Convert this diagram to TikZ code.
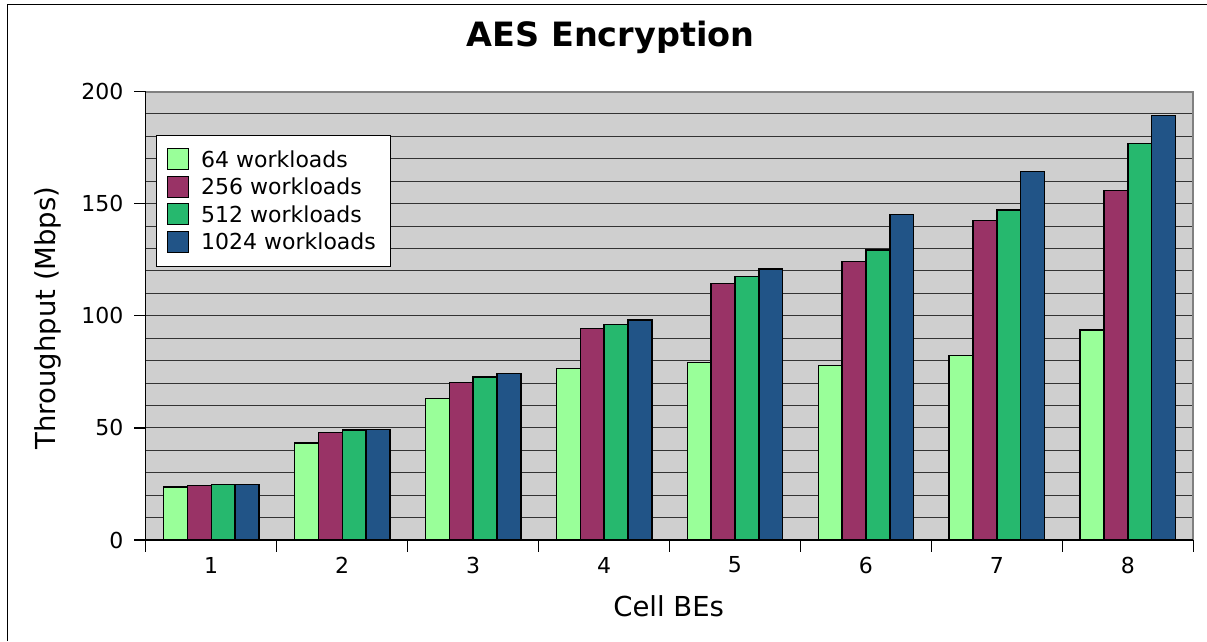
\documentclass[tikz,border=0pt]{standalone}
\usepackage{fontspec}
\setmainfont{DejaVu Sans}
\definecolor{wlA}{HTML}{99FF99}
\definecolor{wlB}{HTML}{993366}
\definecolor{wlC}{HTML}{26B86E}
\definecolor{wlD}{HTML}{215487}
\definecolor{plotbg}{HTML}{CFCFCF}
\definecolor{plotedge}{HTML}{808080}

% one bar: group, slot (0..3), value, fill colour
\newcommand\wlbar[4]{%
  \pgfmathsetmacro\barleft{145.7+(#1-1)*130.95+17.7+#2*23.9}%
  \pgfmathsetmacro\bartop{540-#3*2.2425}%
  \draw[barbox,fill=#4] (\barleft,540) rectangle ({\barleft+23.9},\bartop);%
}

\begin{document}
\begin{tikzpicture}[x=1pt,y=-1pt,
  barbox/.style={draw=black,line width=1.3pt},
  gridline/.style={draw=black!80,line width=1pt},
  axisline/.style={draw=black,line width=1.3pt},
  ticklabel/.style={inner sep=0pt,font=\fontsize{22}{26}\selectfont},
  axistitle/.style={inner sep=0pt,font=\fontsize{27.5}{32}\selectfont},
  legendtext/.style={inner sep=0pt,anchor=west,font=\fontsize{22}{26}\selectfont},
  swatch/.style={draw=black,line width=1pt,minimum width=21,minimum height=21,inner sep=0pt}]
\useasboundingbox (0,0) rectangle (1207,641);

% outer frame (top and left edges)
\draw[line width=1.5pt] (7.5,641) -- (7.5,4.5) -- (1207,4.5);

% title
\node[inner sep=0pt,anchor=base,font=\bfseries\fontsize{33.5}{38}\selectfont] (title) at (610.5,46) {AES Encryption};

% plot area
\fill[plotbg] (145.7,91.5) rectangle (1193.3,540);
\foreach \v in {10,20,...,190}
  \draw[gridline] (145.7,{540-\v*2.2425}) -- (1193.3,{540-\v*2.2425});
\draw[plotedge,line width=2pt] (145.7,91.5) -- (1193.3,91.5) -- (1193.3,540);

% bars
\foreach \g/\a/\b/\c/\d in {1/23.6/24.4/24.6/24.8, 2/43.3/47.9/49.1/49.3,
    3/63.1/70.3/72.7/74.2, 4/76.4/94.4/96.0/98.1, 5/79.1/114.4/117.4/120.8,
    6/77.9/124.2/129.3/145.0, 7/82.4/142.5/147.2/164.4, 8/93.6/156.0/176.9/189.2}{
  \wlbar{\g}{0}{\a}{wlA}
  \wlbar{\g}{1}{\b}{wlB}
  \wlbar{\g}{2}{\c}{wlC}
  \wlbar{\g}{3}{\d}{wlD}
}

% axes and ticks
\draw[axisline] (145.7,91.5) -- (145.7,551.5);
\draw[axisline] (145.7,540) -- (1193.3,540);
\foreach \v in {0,50,...,200}
  \draw[axisline] (134,{540-\v*2.2425}) -- (145.7,{540-\v*2.2425});
\foreach \k in {1,...,8}
  \draw[axisline] ({145.7+\k*130.95},540) -- ({145.7+\k*130.95},551.5);

% tick labels
\foreach \v in {0,50,100,150,200}
  \node[ticklabel,anchor=east] (ylab\v) at (123.5,{540-\v*2.2425}) {\v};
\foreach \k in {1,...,8}
  \node[ticklabel] (xlab\k) at ({145.7+(\k-0.5)*130.95},565) {\k};

% axis titles
\node[axistitle,anchor=base] (xtitle) at (668.7,616) {Cell BEs};
\node[axistitle,anchor=base,rotate=90] (ytitle) at (55,318) {Throughput (Mbps)};

% legend
\node[draw=black,fill=white,line width=1pt,anchor=north west,
      minimum width=234,minimum height=130.7,inner sep=0pt] (legend) at (156,135) {};
\foreach \i/\col/\txt in {0/wlA/64 workloads,1/wlB/256 workloads,
                          2/wlC/512 workloads,3/wlD/1024 workloads}{
  \node[swatch,fill=\col] (sw\i) at (177.8,{159.2+\i*27.5}) {};
  \node[legendtext] (lt\i) at (201,{159.2+\i*27.5}) {\txt};
}
\end{tikzpicture}
\end{document}
